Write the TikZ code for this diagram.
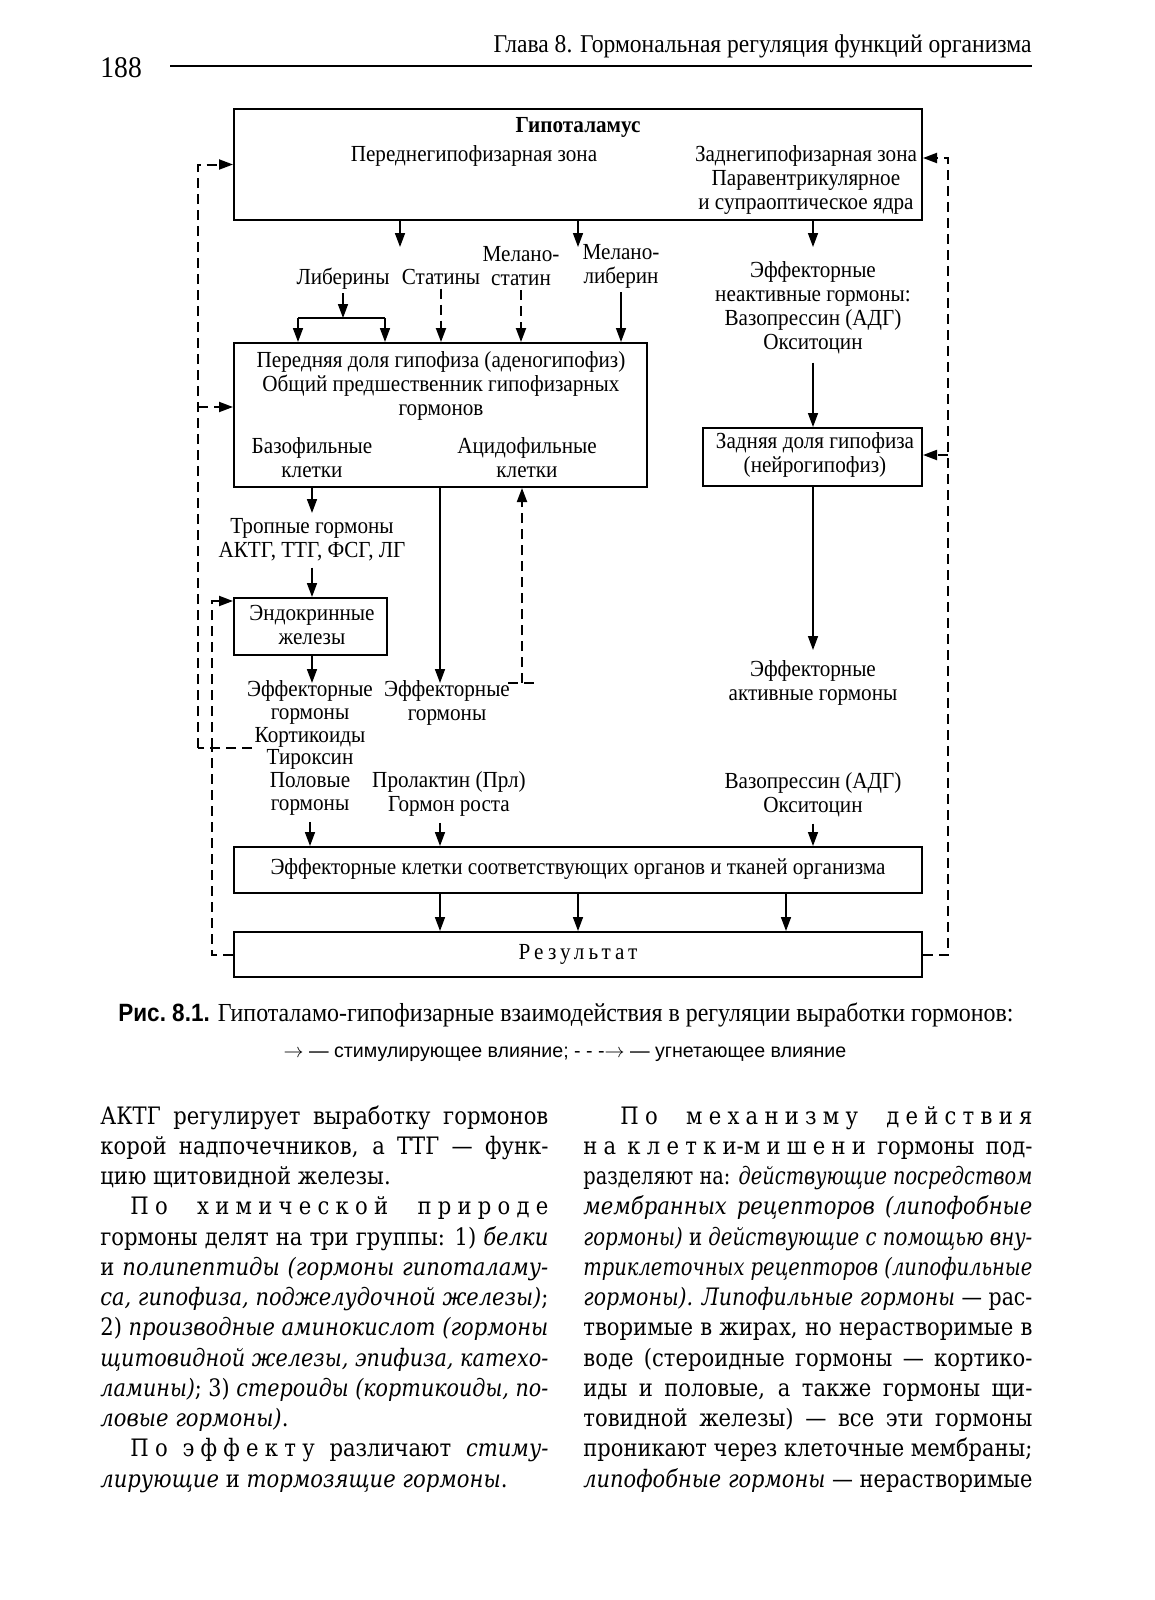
\documentclass[tikz,border=0pt]{standalone}
\usepackage{fontspec}
\usepackage{graphicx}
\setmainfont{Liberation Serif}
\newfontfamily\dfont{Liberation Serif}[FakeStretch=0.92]
\newfontfamily\bodyfont{DejaVu Serif}[FakeStretch=0.88]
\newfontfamily\sfont{Liberation Sans}
\newfontfamily\capsf{Liberation Sans}[FakeStretch=0.9]
\usetikzlibrary{arrows.meta}
\newlength\jw
\newcommand\jline[2]{%
  \settowidth\jw{#2}%
  \ifdim\jw>#1\relax
    \pgfmathsetmacro\jf{#1/\jw}%
    \scalebox{\jf}[1]{#2}%
  \else
    \makebox[#1][s]{#2}%
  \fi}
\newcommand\lsp{\addfontfeature{LetterSpace=26}}
\begin{document}
\begin{tikzpicture}[x=0.5pt,y=-0.5pt,
  box/.style={draw, line width=1pt, inner sep=0pt},
  lbl/.style={font=\dfont\fontsize{11.5}{12}\selectfont, align=center, inner sep=0pt},
  arr/.style={line width=0.8pt, -{Triangle[length=7pt,width=5pt]}},
  darr/.style={arr, dash pattern=on 5pt off 3pt, line width=1pt},
  dline/.style={line width=1pt, dash pattern=on 5pt off 3pt},
  ln/.style={line width=0.8pt},
  body/.style={anchor=base west, inner sep=0pt, font=\bodyfont\fontsize{12}{14}\selectfont}]
\useasboundingbox (0,0) rectangle (1155,1600);

% header
\node[anchor=base west, inner sep=0pt, font=\dfont\fontsize{15}{15}\selectfont] (page) at (100,78) {188};
\node[anchor=base east, inner sep=0pt, font=\dfont\fontsize{12.8}{13}\selectfont] (chap) at (1032,53) {Глава 8. Гормональная регуляция функций организма};
\coordinate (ruleL) at (170,66);
\draw[line width=1.3pt] (ruleL) -- (chap.east |- ruleL);

% boxes
\node[box, minimum width=344pt, minimum height=55.5pt] (hyp) at (578,164.5) {};
\node[box, minimum width=206.5pt, minimum height=72pt] (ant) at (440.5,415) {};
\node[box, minimum width=109.5pt, minimum height=29pt] (post) at (812.5,457) {};
\node[box, minimum width=76.5pt, minimum height=28.5pt] (endo) at (310.5,626.5) {};
\node[box, minimum width=344pt, minimum height=23pt] (eff) at (578,870) {};
\node[box, minimum width=344pt, minimum height=22.5pt] (res) at (578,954.5) {};

% texts
\node[lbl, font=\dfont\bfseries\fontsize{11.5}{12}\selectfont] (hypT) at (578,127) {Гипоталамус};
\node[lbl] (antz) at (474,156) {Переднегипофизарная зона};
\node[lbl] (postz) at (806,180) {Заднегипофизарная зона\\Паравентрикулярное\\и супраоптическое ядра};
\node[lbl, anchor=base] (lib) at (343,284) {Либерины};
\node[lbl, anchor=base] (stat) at (441,284) {Статины};
\node[lbl] (mst) at (521,266) {Мелано-\\статин};
\node[lbl] (mlib) at (621,266) {Мелано-\\либерин};
\node[lbl] (inact) at (813,308) {Эффекторные\\неактивные гормоны:\\Вазопрессин (АДГ)\\Окситоцин};
\node[lbl] (antT) at (441,386) {Передняя доля гипофиза (аденогипофиз)\\Общий предшественник гипофизарных\\гормонов};
\node[lbl] (baso) at (312,458) {Базофильные\\клетки};
\node[lbl] (acido) at (527,458) {Ацидофильные\\клетки};
\node[lbl] (postT) at (815,455) {Задняя доля гипофиза\\(нейрогипофиз)};
\node[lbl] (trop) at (312,540) {Тропные гормоны\\АКТГ, ТТГ, ФСГ, ЛГ};
\node[lbl] (endoT) at (312,625) {Эндокринные\\железы};
\node[lbl, font=\dfont\fontsize{11.5}{11.4}\selectfont] (effL) at (310,748) {Эффекторные\\гормоны\\Кортикоиды\\Тироксин\\Половые\\гормоны};
\node[lbl] (effM) at (447,703) {Эффекторные\\гормоны};
\node[lbl] (prl) at (449,794) {Пролактин (Прл)\\Гормон роста};
\node[lbl] (act) at (813,683) {Эффекторные\\активные гормоны};
\node[lbl] (vaso) at (813,795) {Вазопрессин (АДГ)\\Окситоцин};
\node[lbl] (effT) at (578,869) {Эффекторные клетки соответствующих органов и тканей организма};
\node[lbl] (resT) at (578,954) {\addfontfeature{LetterSpace=18}Результат};

% solid arrows
\coordinate (h1) at (400,247); \draw[arr] (hyp.south -| h1) -- (h1);
\coordinate (h2) at (578,247); \draw[arr] (hyp.south -| h2) -- (h2);
\coordinate (h3) at (813,247); \draw[arr] (hyp.south -| h3) -- (h3);
\coordinate (bar) at (343,318); \coordinate (barL) at (298,318); \coordinate (barR) at (385,318);
\draw[arr, shorten <=2pt] (lib.south) -- (bar);
\draw[ln] (barL) -- (barR);
\draw[arr] (barL) -- (ant.north -| barL);
\draw[arr] (barR) -- (ant.north -| barR);
\draw[darr, shorten <=2pt] (stat.south) -- (ant.north -| stat.south);
\draw[darr, shorten <=2pt] (mst.south) -- (ant.north -| mst.south);
\draw[arr, shorten <=2pt] (mlib.south) -- (ant.north -| mlib.south);
\draw[arr, shorten <=4pt] (inact.south) -- (post.north -| inact.south);
\coordinate (actT) at (813,650); \draw[arr] (post.south -| actT) -- (actT);
\coordinate (tropT) at (312,513); \draw[arr] (ant.south -| tropT) -- (tropT);
\draw[arr, shorten <=3pt] (trop.south) -- (endo.north -| trop.south);
\coordinate (effLt) at (312,683); \draw[arr] (endo.south -| effLt) -- (effLt);
\coordinate (effMt) at (440,683); \draw[arr] (ant.south -| effMt) -- (effMt);
\draw[arr, shorten <=3pt] (effL.south) -- (eff.north -| effL.south);
\draw[arr, shorten <=3pt] (prl.south -| effMt) -- (eff.north -| effMt);
\draw[arr, shorten <=3pt] (vaso.south) -- (eff.north -| vaso.south);
\coordinate (r1) at (440,0); \coordinate (r2) at (578,0); \coordinate (r3) at (786,0);
\draw[arr] (eff.south -| r1) -- (res.north -| r1);
\draw[arr] (eff.south -| r2) -- (res.north -| r2);
\draw[arr] (eff.south -| r3) -- (res.north -| r3);

% dashed feedback
\coordinate (acF) at (522,683); \coordinate (acL) at (508,683); \coordinate (acR) at (537,683);
\draw[dline] (acL) -- (acR);
\draw[darr] (acF) -- (ant.south -| acF);
\coordinate (LH) at (252,748); \coordinate (LO) at (198,748); \coordinate (LI) at (212,748);
\draw[dline] (LH) -- (LO);
\draw[darr] (LO) -- (LO |- hyp.west) -- (hyp.west);
\coordinate (LA) at (198,407); \draw[darr] (LA) -- (ant.west |- LA);
\coordinate (LEn) at (212,601); \draw[darr] (LI) -- (LEn) -- (endo.west |- LEn);
\draw[dline] (res.west) -- (res.west -| LI) -- (LI);
\coordinate (RT) at (948,158); \coordinate (RP) at (948,455);
\draw[darr] (res.east) -- (res.east -| RT) -- (RT) -- (hyp.east |- RT);
\draw[darr] (RP) -- (post.east |- RP);

% caption
\node[anchor=base west, inner sep=0pt, font=\dfont\fontsize{13}{14}\selectfont] (cap) at (118,1021) {{\capsf\bfseries\fontsize{12.5}{14}\selectfont Рис.~8.1.} Гипоталамо-гипофизарные взаимодействия в регуляции выработки гормонов:};
\node[anchor=base, inner sep=0pt, font=\sfont\fontsize{9.8}{10}\selectfont] (leg) at (565,1057) {$\rightarrow$ — стимулирующее влияние; - - -$\rightarrow$ — угнетающее влияние};

% body text, left column
\node[body] (L1) at (100,1124) {\jline{224pt}{АКТГ регулирует выработку гормонов}};
\node[body] (L2) at (100,1154.25) {\jline{224pt}{корой надпочечников, а ТТГ — функ-}};
\node[body] (L3) at (100,1184.5) {цию щитовидной железы.};
\node[body] (L4) at (130,1214.75) {\jline{209pt}{{\lsp По} {\lsp химической} {\lsp природе}}};
\node[body] (L5) at (100,1245) {\jline{224pt}{гормоны делят на три группы: 1) \textit{белки}}};
\node[body] (L6) at (100,1275.25) {\jline{224pt}{и \textit{полипептиды (гормоны гипоталаму-}}};
\node[body] (L7) at (100,1305.5) {\jline{224pt}{\textit{са, гипофиза, поджелудочной железы)};}};
\node[body] (L8) at (100,1335.75) {\jline{224pt}{2) \textit{производные аминокислот (гормоны}}};
\node[body] (L9) at (100,1366) {\jline{224pt}{\textit{щитовидной железы, эпифиза, катехо-}}};
\node[body] (L10) at (100,1396.25) {\jline{224pt}{\textit{ламины)}; 3) \textit{стероиды (кортикоиды, по-}}};
\node[body] (L11) at (100,1426.5) {\textit{ловые гормоны)}.};
\node[body] (L12) at (130,1456.75) {\jline{209pt}{{\lsp По} {\lsp эффекту} различают \textit{стиму-}}};
\node[body] (L13) at (100,1487) {\textit{лирующие} и \textit{тормозящие гормоны}.};

% body text, right column
\node[body] (R1) at (620,1124) {\jline{206pt}{{\lsp По} {\lsp механизму} {\lsp действия}}};
\node[body] (R2) at (583,1154.25) {\jline{224.5pt}{{\lsp на} {\lsp клетки}-{\lsp мишени} гормоны под-}};
\node[body] (R3) at (583,1184.5) {\jline{224.5pt}{разделяют на: \textit{действующие посредством}}};
\node[body] (R4) at (583,1214.75) {\jline{224.5pt}{\textit{мембранных рецепторов (липофобные}}};
\node[body] (R5) at (583,1245) {\jline{224.5pt}{\textit{гормоны)} и \textit{действующие с помощью вну-}}};
\node[body] (R6) at (583,1275.25) {\jline{224.5pt}{\textit{триклеточных рецепторов (липофильные}}};
\node[body] (R7) at (583,1305.5) {\jline{224.5pt}{\textit{гормоны). Липофильные гормоны} — рас-}};
\node[body] (R8) at (583,1335.75) {\jline{224.5pt}{творимые в жирах, но нерастворимые в}};
\node[body] (R9) at (583,1366) {\jline{224.5pt}{воде (стероидные гормоны — кортико-}};
\node[body] (R10) at (583,1396.25) {\jline{224.5pt}{иды и половые, а также гормоны щи-}};
\node[body] (R11) at (583,1426.5) {\jline{224.5pt}{товидной железы) — все эти гормоны}};
\node[body] (R12) at (583,1456.75) {\jline{224.5pt}{проникают через клеточные мембраны;}};
\node[body] (R13) at (583,1487) {\jline{224.5pt}{\textit{липофобные гормоны} — нерастворимые}};
\end{tikzpicture}
\end{document}
